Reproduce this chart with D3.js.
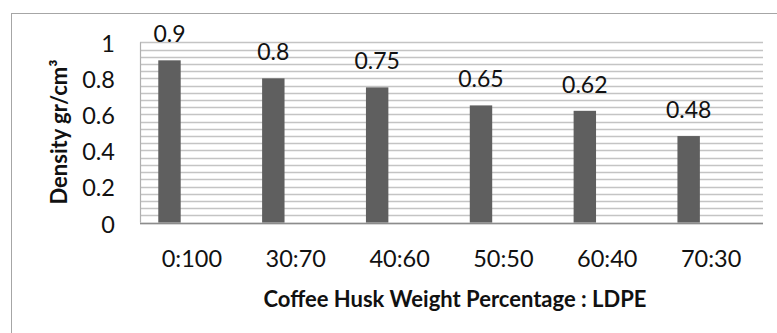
<!DOCTYPE html>
<html><head><meta charset="utf-8">
<script src="https://cdn.jsdelivr.net/npm/d3@7"></script>
<style>
html,body{margin:0;padding:0;background:#fff;}
svg{display:block;font-family:Lato, "Open Sans", sans-serif;}
</style></head>
<body>
<svg id="chart" width="777" height="333"></svg>
<script>
const categories = ["0:100","30:70","40:60","50:50","60:40","70:30"];
const density = [0.9, 0.8, 0.75, 0.65, 0.62, 0.48];
const valueLabels = ["0.9","0.8","0.75","0.65","0.62","0.48"];
const yTicks = [0, 0.2, 0.4, 0.6, 0.8, 1];
const yTickLabels = ["0","0.2","0.4","0.6","0.8","1"];
const minorStep = 0.04;
const seriesSlots = ["s1","s2","s3"];
const xTitle = "Coffee Husk Weight Percentage : LDPE";
const yTitle = "Density gr/cm³";

const svg = d3.select("#chart");
const W = 777, H = 333;
const plot = {left:140, right:763, top:42.3, bottom:222.6};

svg.append("rect").attr("x",11.5).attr("y",13.5).attr("width",W+10).attr("height",H+10)
  .attr("fill","#fff").attr("stroke","#a6a6a6").attr("stroke-width",1);

const x = d3.scaleBand().domain(categories).range([plot.left, plot.right]).padding(0);
const xs = d3.scaleBand().domain(seriesSlots).range([0, x.bandwidth()]).paddingInner(0).paddingOuter(0.815);
const y = d3.scaleLinear().domain([0,1]).range([plot.bottom, plot.top]);

// minor gridlines
const grid = d3.range(0, 1 + 1e-9, minorStep);
svg.append("g").selectAll("line").data(grid).join("line")
  .attr("x1", plot.left).attr("x2", plot.right)
  .attr("y1", d => Math.round(y(d))+0.5).attr("y2", d => Math.round(y(d))+0.5)
  .attr("stroke", "#c4c4c4").attr("stroke-width", 1.3);

// left edge
svg.append("line").attr("x1",plot.left+0.5).attr("x2",plot.left+0.5)
  .attr("y1",y(1)).attr("y2",y(0)).attr("stroke","#b0b0b0").attr("stroke-width",1.2);

// bars
svg.append("g").selectAll("rect").data(density).join("rect")
  .attr("x", (d,i) => x(categories[i]) + xs("s1"))
  .attr("width", xs.bandwidth())
  .attr("y", d => y(d))
  .attr("height", d => y(0) - y(d))
  .attr("fill", "#5f5f5f");

// baseline axis
svg.append("line").attr("x1",plot.left).attr("x2",plot.right)
  .attr("y1",Math.round(y(0))+0.5).attr("y2",Math.round(y(0))+0.5)
  .attr("stroke","#8c8c8c").attr("stroke-width",1.3);

// data labels
svg.append("g").selectAll("text").data(density).join("text")
  .attr("x", (d,i) => x(categories[i]) + xs("s1") + xs.bandwidth()/2)
  .attr("y", d => y(d) - 18)
  .attr("text-anchor","middle").attr("font-size",23).attr("fill","#111")
  .text((d,i) => valueLabels[i]);

// y axis ticks
const yAxis = d3.axisLeft(y).tickValues(yTicks).tickSize(0).tickPadding(25)
  .tickFormat((d,i) => yTickLabels[i]);
const gy = svg.append("g").attr("transform",`translate(${plot.left},0)`).call(yAxis);
gy.select(".domain").remove();
gy.selectAll("text").attr("font-size",23.5).attr("fill","#111").attr("font-family","Lato, sans-serif").attr("dy","0.4em");

// x axis ticks
const xAxis = d3.axisBottom(x).tickSize(0).tickPadding(0);
const gx = svg.append("g").attr("transform",`translate(0,${plot.bottom})`).call(xAxis);
gx.select(".domain").remove();
gx.selectAll("text").attr("font-size",23.5).attr("fill","#111").attr("font-family","Lato, sans-serif")
  .attr("dy",null).attr("y",44.5);

// titles
svg.append("text").attr("x", 455).attr("y", 307).attr("text-anchor","middle")
  .attr("font-size",22).attr("font-weight","bold").attr("fill","#111").text(xTitle);
svg.append("text").attr("transform","translate(67,132) rotate(-90)").attr("text-anchor","middle")
  .attr("font-size",22).attr("font-weight","bold").attr("fill","#111").text(yTitle);
</script>
</body></html>
